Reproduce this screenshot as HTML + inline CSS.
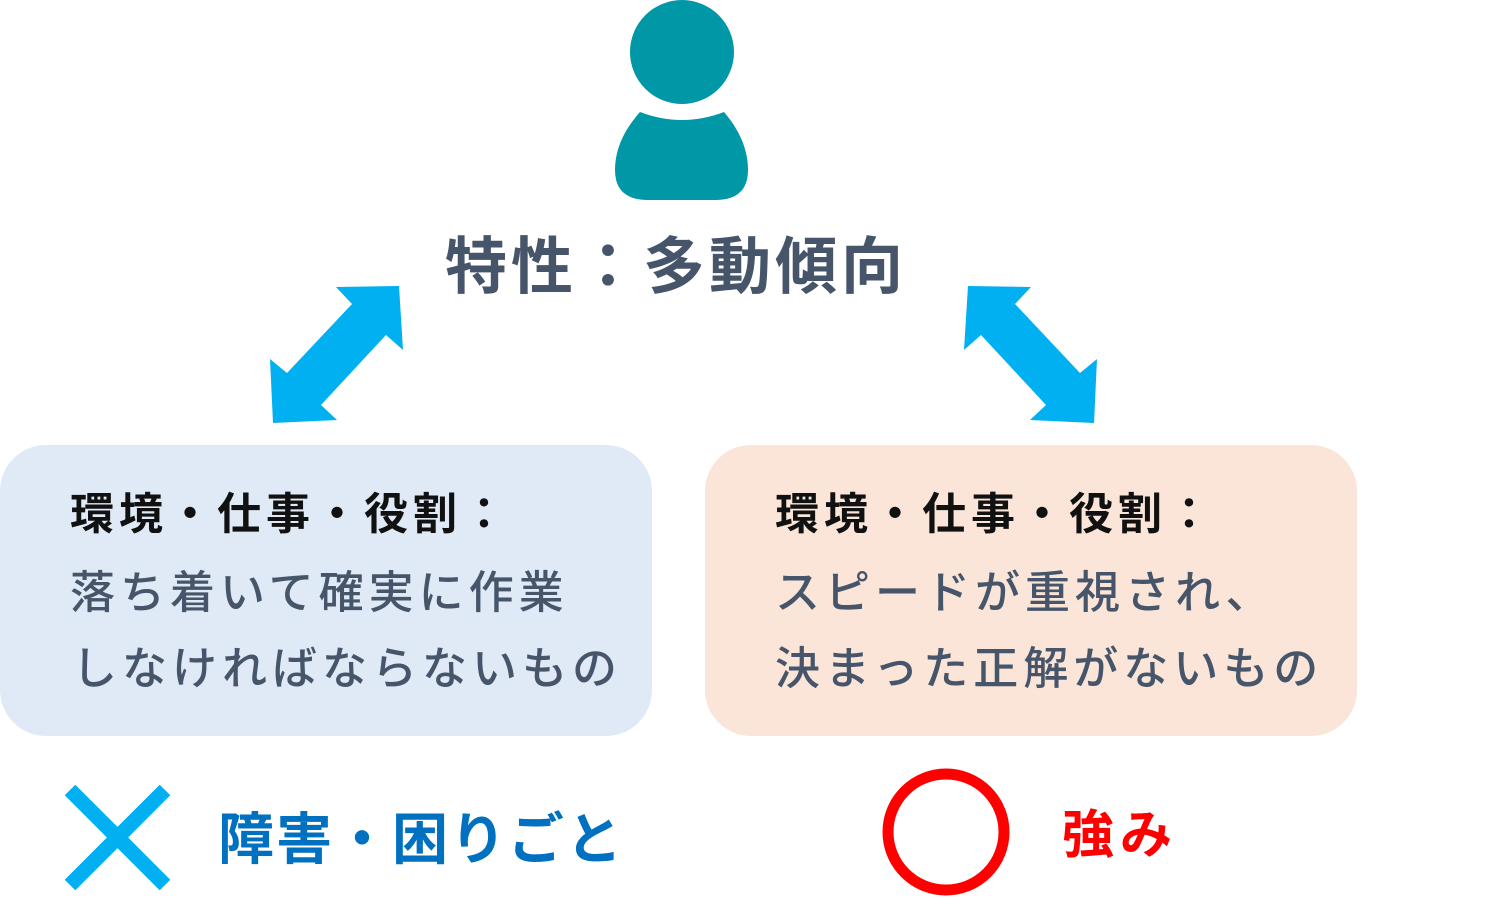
<!DOCTYPE html>
<html><head><meta charset="utf-8"><style>
body{margin:0;width:1491px;height:904px;background:#fff;position:relative;overflow:hidden;font-family:"Liberation Sans","Noto Sans CJK JP",sans-serif}
.t{position:absolute;white-space:nowrap;font-weight:bold}
.box{position:absolute;top:445px;width:652px;height:291px;border-radius:46px}
.h{font-size:44px;color:#111;letter-spacing:5px}
.b{font-size:45px;color:#46556a;font-weight:500;letter-spacing:5px}
</style></head><body>
<svg width="1491" height="904" style="position:absolute;left:0;top:0">
<circle cx="682" cy="52" r="52" fill="#0097a7"/>
<path d="M640 112 Q682 128 724 112 Q748 140 748 170 Q748 200 715 200 L648 200 Q615 200 615 170 Q615 140 640 112Z" fill="#0097a7"/>
<polygon points="336,287 399,286 403,350 386,335 321,405 337,420 273,423 270,359 287,373 352,304" fill="#00b0f0"/>
<polygon points="1031,287 968,286 964,350 981,335 1046,405 1030,420 1094,423 1097,359 1080,373 1015,304" fill="#00b0f0"/>
<line x1="70" y1="790" x2="165" y2="885" stroke="#00b0f0" stroke-width="15"/>
<line x1="165" y1="790" x2="70" y2="885" stroke="#00b0f0" stroke-width="15"/>
<circle cx="946" cy="832" r="58" fill="none" stroke="#f00" stroke-width="11"/>
</svg>
<div class="t" style="left:445px;top:216px;font-size:62px;color:#46556a;letter-spacing:4px">特性：多動傾向</div>
<div class="box" style="left:0;background:#dfeaf6"></div>
<div class="box" style="left:705px;background:#fae5d8"></div>
<div class="t h" style="left:70px;top:478px">環境・仕事・役割：</div>
<div class="t b" style="left:70px;top:556px">落ち着いて確実に作業</div>
<div class="t b" style="left:72px;top:632px">しなければならないもの</div>
<div class="t h" style="left:775px;top:478px">環境・仕事・役割：</div>
<div class="t b" style="left:775px;top:556px">スピードが重視され、</div>
<div class="t b" style="left:775px;top:632px">決まった正解がないもの</div>
<div class="t" style="left:218px;top:795px;font-size:56px;color:#0070c0;letter-spacing:2px">障害・困りごと</div>
<div class="t" style="left:1062px;top:793px;font-size:52px;color:#f00;letter-spacing:6px">強み</div>
</body></html>
